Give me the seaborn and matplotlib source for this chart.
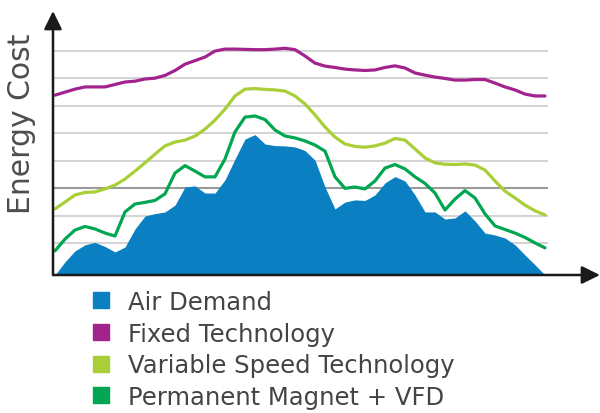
import numpy as np
import pandas as pd
import matplotlib.pyplot as plt
from matplotlib.lines import Line2D
import seaborn as sns

sns.set_theme(style="white")
plt.rcParams['font.family'] = ['DejaVu Sans']

# curves, one value per time step (gridlines are at 1..8)
fixed = [6.39, 6.50, 6.61, 6.69, 6.69, 6.69, 6.78, 6.87, 6.90, 6.98,
         7.01, 7.11, 7.29, 7.52, 7.65, 7.78, 8.00, 8.07, 8.07, 8.06,
         8.05, 8.05, 8.07, 8.10, 8.05, 7.82, 7.56, 7.45, 7.40, 7.34,
         7.31, 7.29, 7.31, 7.40, 7.46, 7.38, 7.20, 7.12, 7.05, 7.00,
         6.94, 6.94, 6.96, 6.96, 6.83, 6.69, 6.58, 6.43, 6.36, 6.36]
variable = [2.24, 2.49, 2.75, 2.84, 2.86, 2.97, 3.11, 3.33, 3.62, 3.92,
            4.24, 4.54, 4.68, 4.75, 4.90, 5.15, 5.48, 5.88, 6.36, 6.61,
            6.63, 6.60, 6.58, 6.54, 6.36, 6.07, 5.67, 5.23, 4.86, 4.61,
            4.52, 4.49, 4.54, 4.64, 4.81, 4.75, 4.43, 4.10, 3.92, 3.87,
            3.86, 3.88, 3.84, 3.66, 3.26, 2.89, 2.64, 2.38, 2.17, 2.02]
pm_vfd = [0.71, 1.14, 1.47, 1.60, 1.51, 1.36, 1.25, 2.13, 2.42, 2.48,
          2.55, 2.79, 3.55, 3.82, 3.62, 3.41, 3.41, 4.06, 5.05, 5.59,
          5.63, 5.50, 5.12, 4.90, 4.83, 4.72, 4.57, 4.35, 3.41, 2.99,
          3.04, 2.97, 3.26, 3.73, 3.86, 3.70, 3.41, 3.17, 2.82, 2.20,
          2.60, 2.91, 2.64, 2.06, 1.62, 1.49, 1.36, 1.20, 1.00, 0.82]
air_demand = [-0.17, 0.31, 0.71, 0.93, 1.02, 0.87, 0.67, 0.85, 1.51, 1.98,
              2.07, 2.13, 2.38, 3.04, 3.08, 2.82, 2.82, 3.30, 4.06, 4.79,
              4.95, 4.61, 4.55, 4.54, 4.50, 4.37, 4.02, 3.04, 2.24, 2.49,
              2.57, 2.55, 2.75, 3.19, 3.42, 3.26, 2.75, 2.13, 2.13, 1.87,
              1.91, 2.17, 1.80, 1.36, 1.29, 1.18, 0.93, 0.56, 0.20, -0.17]
t = np.arange(len(fixed))

labels = ['Air Demand', 'Fixed Technology', 'Variable Speed Technology', 'Permanent Magnet + VFD']
colors = ['#0a80c2', '#a3238e', '#a8cf38', '#00a651']

df = pd.DataFrame({
    't': np.tile(t, 3),
    'cost': fixed + variable + pm_vfd,
    'series': np.repeat(labels[1:], len(t)),
})

fig = plt.figure(figsize=(6, 4.14), dpi=100)
ax = fig.add_axes([53 / 600, 138 / 414, 547 / 600, 264 / 414])
ax.set_xlim(-0.2, 54.5)
ax.set_ylim(-0.17, 9.46)

# gridlines (the one at 3 is darker in the original)
ax.hlines([1, 2, 4, 5, 6, 7, 8], -0.2, 49.3, color='#d4d4d4', lw=1.5, zorder=0)
ax.hlines([3], -0.2, 49.3, color='#9a9a9a', lw=1.5, zorder=0)

ax.fill_between(t, air_demand, -0.17, color=colors[0], lw=0, zorder=1)
sns.lineplot(data=df, x='t', y='cost', hue='series', palette=colors[1:],
             lw=2.3, ax=ax, legend=False, zorder=2,
             solid_joinstyle='round', solid_capstyle='round')

for s in ax.spines.values():
    s.set_visible(False)
ax.set_xticks([])
ax.set_yticks([])
ax.set_xlabel('')
ax.set_ylabel('')
fig.text(22 / 600, 1 - 124 / 414, 'Energy Cost', fontsize=21.5, color='#4d4d4d',
         rotation=90, ha='center', va='center')

arrow = dict(arrowstyle='-|>,head_length=0.55,head_width=0.27', color='#1a1a1a',
             lw=1.8, shrinkA=0, shrinkB=0, mutation_scale=20)
ax.annotate('', xy=(1, 0), xytext=(0, 0), xycoords='axes fraction', arrowprops=arrow)
ax.annotate('', xy=(0, 1), xytext=(0, 0), xycoords='axes fraction', arrowprops=arrow)

handles = [Line2D([], [], ls='', marker='s', markersize=11, color=c) for c in colors]
fig.legend(handles, labels, loc='upper left', bbox_to_anchor=(88.7 / 600, 1 - 291 / 414),
           frameon=False, fontsize=17.5, handlelength=1.0, handletextpad=0.6,
           labelspacing=0.31, borderpad=0, borderaxespad=0, labelcolor='#444444')

fig.savefig('out.png', dpi=100)
